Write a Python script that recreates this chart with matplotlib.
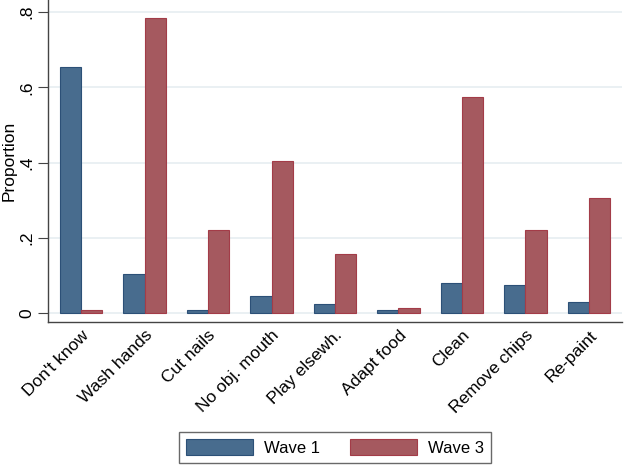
import numpy as np
import matplotlib
matplotlib.use("Agg")
import matplotlib.pyplot as plt

plt.rcParams['font.family'] = ['Liberation Sans', 'DejaVu Sans']

categories = ["Don't know", "Wash hands", "Cut nails", "No obj. mouth",
              "Play elsewh.", "Adapt food", "Clean", "Remove chips", "Re-paint"]
wave1 = [0.654, 0.104, 0.008, 0.045, 0.025, 0.009, 0.080, 0.074, 0.030]
wave3 = [0.007, 0.785, 0.221, 0.404, 0.157, 0.013, 0.574, 0.221, 0.306]
yticks = [0, 0.2, 0.4, 0.6, 0.8]
ytick_labels = ["0", ".2", ".4", ".6", ".8"]

BLUE = "#486c8e"
BLUE_EDGE = "#2c5077"
RED = "#a5595f"
RED_EDGE = "#a33c48"

fig = plt.figure(figsize=(6.24, 4.65), dpi=100)
ax = fig.add_axes([48 / 624, 1 - 322 / 465, 574 / 624, 322 / 465])

x = np.arange(len(categories))
w = 1 / 3
b1 = ax.bar(x - w / 2, wave1, w, color=BLUE, edgecolor=BLUE_EDGE, linewidth=0.8, label="Wave 1", zorder=3)
b3 = ax.bar(x + w / 2, wave3, w, color=RED, edgecolor=RED_EDGE, linewidth=0.8, label="Wave 3", zorder=3)

ax.set_xlim(-0.52, 8.52)
ax.set_ylim(-0.024, 0.832)
ax.set_yticks(yticks)
ax.set_yticklabels(ytick_labels, rotation=90, va="center", fontsize=12.5)
ax.yaxis.grid(True, color="#e6eef1", linewidth=1.2, zorder=0)
ax.set_axisbelow(True)

ax.set_xticks(x)
ax.set_xticklabels(categories, rotation=45, ha="right", rotation_mode="anchor", fontsize=12.5)
ax.tick_params(axis="x", length=0, pad=4)
ax.tick_params(axis="y", length=7, width=0.8, color="#444444", pad=3)
ax.set_ylabel("Proportion", fontsize=12.5)
# label anchor is its right edge once rotated
ax.yaxis.set_label_coords(-31 / 574, 0.5)

for s in ["top", "right"]:
    ax.spines[s].set_visible(False)
for s in ["left", "bottom"]:
    ax.spines[s].set_color("#444444")
    ax.spines[s].set_linewidth(1.0)

leg = fig.legend(handles=[b1, b3], loc="center", bbox_to_anchor=(335 / 624, 1 - 447.5 / 465),
                 ncol=2, frameon=True, fancybox=False, edgecolor="#444444", fontsize=12,
                 handlelength=4.0, handleheight=1.08, columnspacing=1.8, borderpad=0.45,
                 handletextpad=0.66)
leg.get_frame().set_linewidth(1.0)

fig.savefig("out.png", dpi=100, facecolor="white")
